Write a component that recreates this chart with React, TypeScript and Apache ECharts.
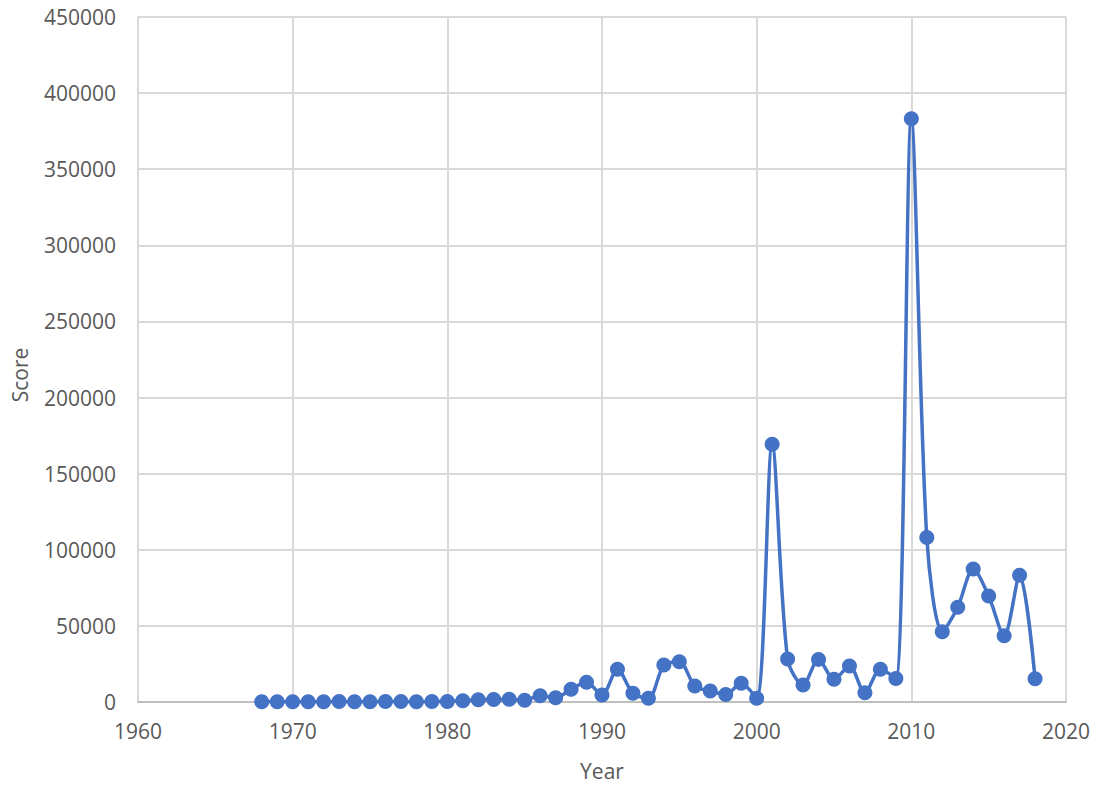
import React, { useEffect, useRef } from "react";
import * as echarts from "echarts";

const years: number[] = [
  1968, 1969, 1970, 1971, 1972, 1973, 1974, 1975, 1976, 1977, 1978, 1979,
  1980, 1981, 1982, 1983, 1984, 1985, 1986, 1987, 1988, 1989, 1990, 1991,
  1992, 1993, 1994, 1995, 1996, 1997, 1998, 1999, 2000, 2001, 2002, 2003,
  2004, 2005, 2006, 2007, 2008, 2009, 2010, 2011, 2012, 2013, 2014, 2015,
  2016, 2017, 2018,
];
const scores: number[] = [
  100, 150, 120, 200, 180, 250, 200, 150, 300, 250, 200, 300,
  400, 800, 1500, 1600, 1800, 1200, 4100, 2800, 8300, 12900, 4600, 21500,
  5700, 2400, 24300, 26500, 10500, 7200, 5000, 12300, 2400, 169300, 28300, 11200,
  28000, 14900, 23700, 6100, 21500, 15500, 383100, 108000, 46200, 62300, 87300, 69600,
  43500, 83300, 15300,
];
const xTicks = { min: 1960, max: 2020, interval: 10 };
const yTicks = { min: 0, max: 450000, interval: 50000 };

const FONT = "'Open Sans', 'Noto Sans', sans-serif";
const TEXT = "#595959";

export default function App() {
  const ref = useRef<HTMLDivElement>(null);
  useEffect(() => {
    if (!ref.current) return;
    const chart = echarts.init(ref.current, undefined, { renderer: "svg" });
    chart.setOption({
      animation: false,
      backgroundColor: "#ffffff",
      grid: { left: 138, right: 30, top: 17, bottom: 84 },
      xAxis: {
        type: "value",
        min: xTicks.min,
        max: xTicks.max,
        interval: xTicks.interval,
        name: "Year",
        nameLocation: "middle",
        nameGap: 58,
        nameTextStyle: { fontFamily: FONT, fontSize: 21, color: TEXT },
        axisLine: { show: true, lineStyle: { color: "#BFBFBF", width: 2 } },
        axisTick: { show: false },
        axisLabel: {
          fontFamily: FONT,
          fontSize: 21,
          color: TEXT,
          margin: 18,
          formatter: (v: number) => String(v),
        },
        splitLine: { show: true, lineStyle: { color: "#D9D9D9", width: 2 } },
      },
      yAxis: {
        type: "value",
        min: yTicks.min,
        max: yTicks.max,
        interval: yTicks.interval,
        axisLine: { show: false },
        axisTick: { show: false },
        axisLabel: {
          fontFamily: FONT,
          fontSize: 21,
          color: TEXT,
          margin: 22,
          formatter: (v: number) => String(v),
        },
        splitLine: { show: true, lineStyle: { color: "#D9D9D9", width: 2 } },
      },
      graphic: [
        {
          type: "text",
          x: 20,
          y: 375,
          rotation: Math.PI / 2,
          style: {
            text: "Score",
            fontFamily: FONT,
            fontSize: 21,
            fill: TEXT,
            textAlign: "center",
            textVerticalAlign: "middle",
          },
        },
      ],
      series: [
        {
          type: "line",
          data: years.map((y, i) => [y, scores[i]]),
          smooth: 0.3,
          symbol: "circle",
          symbolSize: 15,
          lineStyle: { color: "#4472C4", width: 3.5 },
          itemStyle: { color: "#4472C4" },
        },
      ],
    });
    return () => chart.dispose();
  }, []);
  return (
    <div
      ref={ref}
      style={{ position: "fixed", left: 0, top: 0, width: 1096, height: 786 }}
    />
  );
}
